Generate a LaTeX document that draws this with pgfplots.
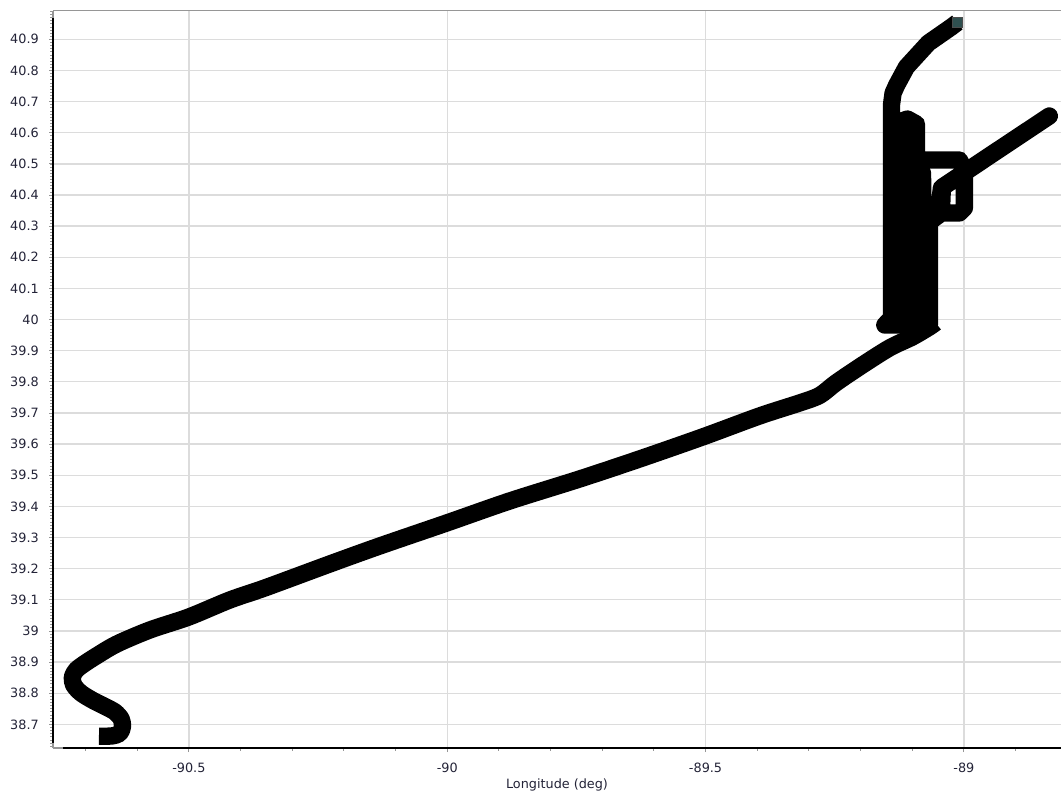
\documentclass[border=0pt]{standalone}
\usepackage{pgfplots}
\pgfplotsset{compat=1.18}
\usepackage{fontspec}
\setmainfont{DejaVu Sans}
\definecolor{gridc}{RGB}{220,220,220}
\definecolor{txt}{RGB}{35,35,55}
\definecolor{mk}{RGB}{47,79,79}
\definecolor{axc}{RGB}{150,150,150}
\begin{document}
\begin{tikzpicture}
\begin{axis}[
  at={(0,0)}, anchor=south west,
  scale only axis, width=756pt, height=553pt,
  xmin=-90.763, xmax=-88.812, ymin=38.624, ymax=40.992,
  axis x line*=bottom, axis y line*=left,
  axis line style={draw=axc, line width=0.9pt, -},
  xtick={-90.5,-90,-89.5,-89},
  xticklabels={-90.5,-90,-89.5,-89},
  ytick={38.7,38.8,38.9,39,39.1,39.2,39.3,39.4,39.5,39.6,39.7,39.8,39.9,40,40.1,40.2,40.3,40.4,40.5,40.6,40.7,40.8,40.9},
  yticklabels={38.7,38.8,38.9,39,39.1,39.2,39.3,39.4,39.5,39.6,39.7,39.8,39.9,40,40.1,40.2,40.3,40.4,40.5,40.6,40.7,40.8,40.9},
  minor xtick={-90.7,-90.6,-90.4,-90.3,-90.2,-90.1,-89.9,-89.8,-89.7,-89.6,-89.4,-89.3,-89.2,-89.1,-88.9},
  minor ytick={38.63,38.64,...,40.99},
  tick align=outside,
  major tick length=3pt, minor tick length=2pt,
  every tick/.style={draw=axc, line width=0.6pt},
  grid=major,
  major grid style={draw=gridc, line width=1pt},
  tick label style={font=\fontsize{9.6}{11}\selectfont, text=txt},
  xticklabel style={anchor=base, inner sep=0pt, yshift=-15pt},
  yticklabel style={anchor=east, inner sep=0pt, xshift=-7.5pt},
  xlabel={Longitude (deg)},
  xlabel style={font=\fontsize{9.6}{11}\selectfont, text=txt, at={(axis description cs:0.5,0)}, anchor=base, yshift=-30.5pt},
]
% southern leg: S-curve and long line
\addplot[black, line width=13pt, line join=round, line cap=butt, smooth, tension=0.5] coordinates {
(-90.6740,38.6620)
(-90.6489,38.6627)
(-90.6340,38.6710)
(-90.6285,38.6930)
(-90.6310,38.7173)
(-90.6430,38.7397)
(-90.6630,38.7580)
(-90.6870,38.7780)
(-90.7090,38.8008)
(-90.7230,38.8264)
(-90.7255,38.8521)
(-90.7180,38.8746)
(-90.7030,38.8939)
(-90.6790,38.9196)
(-90.6393,38.9581)
(-90.5754,39.0031)
(-90.5000,39.0448)
(-90.4207,39.0994)
(-90.3530,39.1380)
(-90.2273,39.2150)
(-90.1306,39.2728)
(-90.0010,39.3467)
(-89.8791,39.4173)
(-89.7437,39.4880)
(-89.6277,39.5522)
(-89.5058,39.6229)
(-89.3956,39.6903)
(-89.3182,39.7320)
(-89.2795,39.7560)
(-89.2480,39.7960)
(-89.2021,39.8477)
(-89.1441,39.9087)
(-89.0996,39.9440)
(-89.0667,39.9761)
(-89.0550,39.9900)
};
% loops near -89.1, 40 to 40.6 and the northern leg
\addplot[black, line width=13pt, line join=round, line cap=butt] coordinates {
(-89.0550,39.9900)
(-89.0667,39.9825)
(-89.1530,39.9825)
(-89.1402,40.0050)
(-89.1402,40.5445)
(-89.1286,40.5445)
(-89.1286,39.9825)
(-89.1170,39.9825)
(-89.1228,40.5606)
(-89.1248,40.6344)
(-89.1093,40.6441)
(-89.0919,40.6280)
(-89.0919,40.5124)
(-89.0087,40.5124)
(-88.9990,40.4803)
(-88.9990,40.3583)
(-89.0087,40.3422)
(-89.0397,40.3422)
(-89.0474,40.3679)
(-89.0435,40.4225)
(-88.8346,40.6537)
(-89.0416,40.4257)
(-89.0435,40.3422)
(-89.0668,40.3133)
(-89.0668,39.9825)
(-89.0783,39.9825)
(-89.0800,40.4700)
(-89.0919,40.4700)
(-89.0919,39.9825)
(-89.1054,39.9825)
(-89.1054,40.5445)
(-89.1151,40.5445)
(-89.1151,39.9825)
(-89.1402,39.9825)
(-89.1402,40.6890)
(-89.1370,40.7276)
(-89.1300,40.7532)
(-89.1112,40.8110)
(-89.0687,40.8881)
(-89.0242,40.9395)
(-89.0126,40.9540)
};
\addplot[only marks, mark=square*, mark size=3.6pt, mark options={fill=mk, draw=black!70, line width=0.4pt}] coordinates {(-89.0126,40.9540)};
\coordinate (L1) at (axis cs:-90.763,38.6402);
\coordinate (L2) at (axis cs:-90.763,40.9684);
\coordinate (B1) at (axis cs:-90.7437,38.624);
\coordinate (B2) at (axis cs:-88.812,38.624);
\end{axis}
\draw[axc, line width=0.9pt] (current axis.north west) -- (current axis.north east);
\draw[black, line width=1.9pt] (L1) -- (L2);
\draw[black, line width=1.9pt] (B1) -- (B2);
\pgfresetboundingbox
\path[use as bounding box] ([xshift=-39.75pt,yshift=-36pt]current axis.south west) rectangle ([yshift=8pt]current axis.north east);
\end{tikzpicture}
\end{document}
